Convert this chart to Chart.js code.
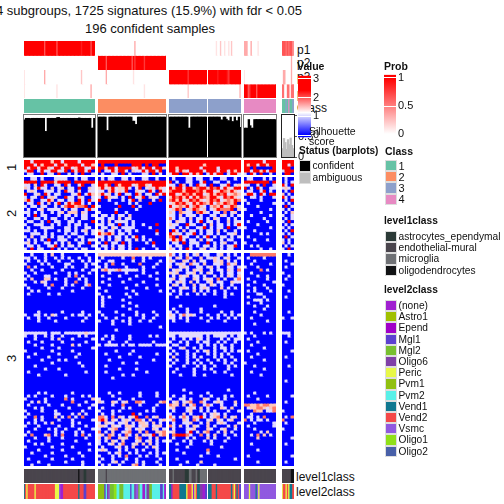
<!DOCTYPE html>
<html>
<head>
<meta charset="utf-8">
<script src="https://cdn.jsdelivr.net/npm/chart.js@4"></script>
<style>
	html, body { margin: 0; padding: 0; background: #fff; overflow: hidden; }
	#page { position: relative; width: 504px; height: 504px; overflow: hidden; font-family: "Liberation Sans", sans-serif; color: #111; }
	#page canvas, .txt, .swatch, .frame { position: absolute; display: block; }
	.txt { white-space: nowrap; line-height: 1; }
	.swatch { box-sizing: border-box; border: 1px solid #ddd; }
	.frame { box-sizing: border-box; border: 1px solid #777; }
</style>
</head>
<body>
<div id="page"></div>
<script>
// heatmap rows, space separated per sample group
// . blue, w lavender, p pink, s salmon, r red
const block1Rows = [
	"rrwrrrrrprrwrrrrwrrrr rrrrrrrrrrrrrrrrrrrr rrrrrrrrrrrrrrrrrrrrr rrrrrrwrrr rrrr",
	"rrrwrprrrwrrprrrrwrrp .r...r....rrr.r.rr.. rrrrrrrrrrprrrrrrrrrr rprrwrrprr rrwr",
	"rwrrwrrpwrrwrrwprrwwr rrprrwrrrrwprwrrwrrp rrprrrrrrwrrrrwrrrrrr rr.r.....r rrr.",
	"wrr.wrwwrrwwr.rwrrwr. r.wwrwrrw.pwwrwrrwr. rrwrpwrrrrwrrrwrrwrpr rrwrrprwrr wrrr",
	".ww..r.ww.r..w.w.r..w .w..ww.r.w...ww.r.w. wrr.rrwrpr.wrwrr.wrrw w.rw.r..w. .rr."
]
const block2Rows = [
	"..ww.w...wwww..w.ww.. .w.ww..ww.w..ww..w.. .w...ww.ww..w..ww..w. .ww...w.w. .w..",
	"rrrr.rrrrprrrr.rrrrrr rrrrrrrrrrrrrrrrrrrr r.w..ww..wr..ww..w... rrrrrrrr.r .w.w",
	"ww.p.rw..ww.rw..wr..w rrpr.rprrrwprrpwrrrr ww.rp.w.rww.r..wwr.wp ww..w.r..w rw.r",
	"pw.wrww.p.wp.ww.r..pw prwprwpprw.wr.wpwrpw rprrwrrpsrrprsrwrpwrr r.w.rw..ww wpw.",
	".wpw..www.w.rww.p..ww ww.prwpwr..pww.rw.rw srrrprrrsrprrwprsprpw .ww..wr.w. .w.r",
	"r..wp.rw.ww...wwr.wrp prwp.wr.ww.rp.ww.rwr rrwprsrprrwprprsrwpsp wrrw.rw.rr p.w.",
	"w.ww.r.wpw..rww.pw..w w.rpww.w.r.wwr.pww.. prsrprwrprsprrpwrsrpw ..ww.w...w rw.w",
	"prw..wwrp.ww.ww.rw.rw r..w...w.wr.p...w.r. srprwprsrpwprsrwpsprs w....w.... .w.r",
	".ww.rw.p.wr.wrprrw.w. .....w...w.w...r.... wprsrpwrprsprwsprspr. .w.......w w.w.",
	"w.ww.ww..w.wsrrpssr.r w.....r...r.w....... rwpsprwsrpw.psprwprsw ....w..... .r.w",
	".w..wp.wwww.w.ww..wrw .....w.....w........ wprs.wprswp.wprsssr.p w.......w. w.w.",
	"ww.w.w..w.wp.ppp.pw.. w....r..w........... pw.spww.srpw.ww.s.wp. .....w.... .w.p",
	".w.r.ww...w.ww.w.ww.w .ww.w.ww.p.......... ww.p.www.w..ww.pw.w.w ..w.....w. w..w",
	"w..ww.w.ww..w.w..ww.. ww.ww.p.ww.......... sw.ww.p.ww.w.pw..w.w. ......w... .w.w",
	".ww..w.r.ww..ww.w...r .w.p.wwww.w......... w.pww.w.wr.ww.w..p.ww .w.....w.. w.r.",
	"w..www..w.w..w.ww.w.. ww.ww.r.w.w..w...r.. pww..rww..w.p.ww.w.wr ....w..... .w.w",
	".w...wwww...ww.w..ww. .ww.pw.wwww....w.... ww.w.w..wwr.w.ww.r..w w.......w. w.w.",
	"ww.w..w...w.ww.w.wp.w pw.ww.w.ww.w.....r.. .rw.p.ww.w.ww.p.w..w. ...w...... .w.r",
	"..www.w.w...w.ww..w.w rpsrp.ww.w.......w.. rwpw.wwr.w.ww.w..wwp. .....w.w.. w.w.",
	"w.p..ww.w.ww.w..ww... ww.w.ww.w.wr.w...... sr.rww..w.wr.w.ww.w.w .w........ .r.w",
	".w.w.w.r..www..w.w.ww .w.w.pw.ww.p.w.w.... wrprw.ww.p.ww..w.ww.. ...w...w.. w.w.",
	"wp.w..ww.w.w.p..ww.r. w.r.ww.r.w....w.r... .ww.r.www..r.w.wp..w. w......... p.w.",
	".ww.w..wwr.w.ww.w...w .ww.w.ww.w......w... w.ww..w.w.ww.w.w.wwr. ..w.w..... .w.w",
	"w.r.ww..r.w.w..w.ww.. w.w.p.ww.w.r.w...w.. pw.w.rw..wp.ww.w.ww.. .....w..w. w.r."
]
const block3Rows = [
	"..w...w.p..w......w.. pppppppppppppppppppp sw.w.p.wp.ww..wp.w.w. ..ssssssss ..w.",
	"ww.w..w..w.w.w..w..w. .w.....w..s..w.w.... w.pw.sw..p.wwpw.wp..w .w....w... ....",
	".w..w.w...w...w..w.w. w..ww.....w..w....w. pw..pw.p.ww..pwp.w.w. ...w...... .w..",
	"w....w.w....ww....w.w ..w.s..w....s....w.. w.wpw.sww.p..wwp.swp. ..w.....w. ...w",
	".s.w....w...w.w...w.. w.w.....w....w..w... p..wpw..ww.wp.w..ww.w w...w..... .w..",
	"..w..w.....w.....w..w .pswwpswwwww.w...... .wpw.w.pwp..w.ww.pw.s .....s.w.. ....",
	"w..w.....w...w.w...w. ...w....w....w...w.. pwp..wwp.w.pw..w.ww.w ..w....... w...",
	".w....ww.....w.s.w... .w....w....w...w.... .w.pwp.ww.w..w.w.pw.p. ....w..w.. ..w.",
	"w.p...pp.w..w...w.w.. ...w.....w.......w.. wp.ww..pw.wpw.s.w..ws .w.....w.. .w..",
	"...w.pw.....w..s..w.. .w.....w.....w...... w.wpw.p.w..wp.ww..pww ...w.....w ....",
	"w.....w.s...w.w...ws. ...w.......w.....w.. .pw.w..p.ww.pw.w..w.. .w....w... w...",
	".w.....w...w.....w... w.......w.....w..... w..wpw.w.wpw...p.w.w. ...w...w.. ....",
	"..w.w.........w...... ..w.......w.......w. .w.w...p.w.w.w..w.... .w.w....w. ..w.",
	".w.....w..w.......... w.......w..w........ w..w.w..w.w..w..w.w.. ....ww.... ....",
	"..................... .w.w.....w.......... ..w.............w.... .w....w... .w..",
	"..................... .w.....w............ ..................... ...www.w.. ....",
	"..................... .w.......w.......... ..................... .w...w.... ....",
	"..................... .w.....w...w........ ...w.........w....... ...w...w.. ....",
	"..................... .........w.......... .w...w...w........... ......w... ....",
	"....w......w.....w... w....w.....w....w... w.w..w...w.....w..w.. ...w...... ..w.",
	"w..ww.w.pw....w.ww.w. .w.....w...w.w...w.. pw.wswpw...w..w.w.w.w .....w.... ....",
	".w..w..w....w.....w.. ..w..w...w...w..w... ww.w.w...w..w.w..w.w. ..w....... w..w",
	"....w....w.......w... w...w..w.w..w..w.... .w...w.....w....w.... .......w.. ....",
	"..................... ....w....w.......... ..................... ...w...... ....",
	"..................... ..................w. ..................... .......... ....",
	"..................... .....w.............. ..................... .......... ....",
	"wwwwwww.www.wwwwwwpww .................... wwwwwwwwwwwwwwwwwwwww w.w...w.w. www.",
	"w..w..w.w..w....w.w.. ..w.w....w.....w.w.. ww.wwwwwww.w.wwww.w.w ...w...... ..w.",
	"...w....w.p...w.....w .w..w....w.......... .w..w.w.pw.w...w.w.ww .w........ ....",
	".w...w.....w......w.. ...w....w.......w... w..w.w..w.ww..w.w..w. ....w..... .w..",
	"...w....w.....p.w.... w.wwww.w.ww.wwww.www .ww..w...w.w.w.w..w.. ..w....... ....",
	".....w....w.........w .................... w..wp..w.w...w.ww.w.. ......w... ....",
	"w.......w.....w...... .....w....w......... .w...w..w.wp.w..w.w.w .w........ ...w",
	"...w......w.....w.... ..w......w.......w.. w.w..w.w...w.w.w.w... ....w..... ....",
	".w.....w.......w..... ......w.....w....... .p...w.w.w...w.w..w.. ..w....... .w..",
	".....w....w.w........ ...w............w... w.w..w..w..w..w.w..w. ......w... ....",
	"........w.......w.... .......w...w........ .w...w.w.w..w...w.w.. w......... ....",
	"...w.............w... ..w................. w...w...w.w..w...w.w. ...w...... ..w.",
	"......w...w.......... ......w....w........ ..w....w..w.w....w... ......w... ....",
	".w................w.. ..w...........w..... .w.....w.....w..w.... ..w....... ....",
	"....w.......w........ .......w..w......... ...w...w..w.......w.. .....w.... ....",
	"..................... ....w............... ..................... .......... ....",
	"..................... .................... ..................... .......... .w..",
	"..................... .................... ..................... .......... ....",
	"..................... .................... ..................... .......... ....",
	"..................... .................... ....w............w... .......... ....",
	"....w.w.......w...... ...w..w.....w....w.. ......w....w......... ...w...... ....",
	".w.w....w...w....w.w. ....w.......w....w.. .w..w....w..w...w.w.. .w.....w.. ...w",
	"w.....w.....s.w.....p w.....w...w......... w..ww.w...pw..w.w.... ....w..... ....",
	"..w.p.w.......s...w.. pw..pw.wp..ssw....ps .wp.wps..sw..wpw...p. .......... .w..",
	".w.....w...w....w...w ....w..s....w....w.. spp.p.ws..wsw..w...w. ssppspsspp ....",
	"...w.w.......w.....w. .w.....w.w......w... wp...wpw.p.w...pw.p.. .wppsspwps ....",
	"w....w...w.......w... w...w.w.......w.w... .w...wp..w.w.w...w..w ...spp.wws w...",
	".w.......ww...w.p.w.. .w..w.....r.w....... w...p.w...w.wpw.w.... ..w....... ....",
	"w..s.w...p.w.s.w.s... ssw.s.pw.wpr..s.wp.. sw.wsw.pprw.wps.p.wp. .ww.w.s... .w.s",
	"...w.w....w...w.....w srp.pw.wpw.ssw.p..wp ws..pw.sw..wp.pw.wp.. s.w.ww.w.. s...",
	".w.w..w.p.....w.w.... w.pww.wwp.w.ppw.p.w. .w..wwp..w.p..wpw...w ...w.....w .w..",
	"w...w.....w...w...w.. ppw.pww.ppw.wpp.wpp. sw.p.w.pw..p.w...w.p. .w.......w ....",
	"...w...w.w..w...w...w w..wps..wp.wpw..pw.w .w...wwp...pw..wp..w. ...w...... w...",
	".w.......w.w...w.w... s.w.p..wps..p.s..pps wp...wr.w.ps..w.p.w.. .....w.p.. ....",
	"w.s...ps.w.s...w.s.w. wp.sp.w.sw.p.wpwr.ps .srrrsw..s.w.p..w..w. ..w.s.p.w. ....",
	"...w...w...w......w.. p.ws..pwp..ps..w.p.. .w...w.w...p.w...w... ....p..... ...w",
	".w.....w.......w..... w.w.pw.p...wp.wp.w.w w...w.w...w.w...w.... .......... ....",
	"...w.w.....w.......w. w..wp.ws..wp.p.p.w.. ..w...w.....w........ ..w....... .w..",
	"w.......w.....w...... .w...wp.w.p...w.pw.. .....w.........w..... .......... ....",
	"....w......w.......w. wpw...w.w..w.w...w.. ..w........s......... ....w..... ....",
	"..w.....w.......w.... ...w.wp..w.w...w.w.w ....w......w......... .......... ....",
	"......w.....w....w... w...w.w.s...w.w..w.. .........w....w...... .w........ ...w",
	".w......w.....w...... .w..w...w..w......w. ..w................w. .......... ....",
	"....w.......w....w... w...wp.w...w.w...w.. .....w...p........... ....w..... .w..",
	"..w....w.........w... .w.w..w...ps.w....w. ...w....w....w....... .......... ...."
]

// top annotation tracks, one digit per sample, 9 = probability 1
const p1Track = "9999999999999996999999996999999999999999998999999699 00000000000000000000000000030000000000000000000000 0000000000000000000000000000 000000100200100102000000 33300300001000000000000 666565664"
const p2Track = "0000000000000000000000000000000000000000000000000000 99999969999999999999999996979999997999999999999999 0000000000000000000000000000 000000000000000000000000 00000000000000000000000 000000030"
const p3Track = "1000000000000003000000000000000000000000002000000000 00000030000000000000000000100000000000000000000000 9999999999999979999999999999 999999989999998799999999 10000000000000000000000 033000030"
const p4Track = "1000000000000000000000001000000000000000000000000300 00000000000000000000000000000000001000000000000000 0000000000000020000000000000 000000000000000000000002 99967999969999999999999 550055055"
const classTrack = "1 2 3 3 4 111314113"
const level1Track = "eeeeeeeeeeeeeeeeeeeeeeeeeeeeeeeeeeeeeeeeoeeeaaeeeeee mmmmmmemmmmmmmmmmmmmmmmmmmmmmmmmmmmmmmmmmmmmmmmmmm eeemeeeeeeeeaaammeeemeammmmm eeeeeeeeeeeeeeeeeeeeeeee eeeeeeeeeeeeeeeeeeeeeee eeeeeeeoo"
const level2Track = "jkgkkkkkgkkkkkkkkkkkkkkgggl" + "aakkkkkkkkkkkjkkkddkkkkkk hhhhhdifleeemmiieeeiiiiidiiflleiiaaiffeeiiiiiiddia jjakkkkkjjjjjgkkkgagkjjffaad jjjkkkjkkkkkkkkkkjkgkjkd llllglllljlgllllllllllll gkkgkgjjk"

// silhouette score per sample
const silGroup1 = [.90,.94,.94,.94,.93,.94,.94,.94,.94,.94,.94,.94,.94,.94,.94,.62,.62,.94,.94,.94,.94,.94,.94,.94,.96,.96,.94,.94,.94,.94,.94,.94,.94,.94,.94,.94,.94,.94,.94,.94,.95,.94,.94,.94,.94,.94,.94,.94,.94,.70,.70,.94]
const silGroup2 = [.97,.97,.97,.97,.97,.97,.64,.64,.97,.97,.97,.97,.97,.97,.97,.97,.97,.97,.97,.97,.97,.97,.97,.97,.97,.87,.87,.79,.79,.97,.97,.97,.97,.97,.97,.97,.97,.97,.97,.97,.97,.97,.97,.97,.97,.97,.97,.97,.97,.97]
const silGroup3a = [.97,.97,.97,.97,.97,.97,.97,.97,.97,.97,.97,.97,.97,.97,.70,.70,.97,.97,.97,.97,.97,.97,.97,.97,.97,.97,.97,.97]
const silGroup3b = [.97,.97,.97,.97,.97,.97,.97,.97,.97,.90,.90,.97,.97,.92,.88,.88,.97,.86,.86,.97,.88,.88,.97,.72]
const silGroup4 = [.70,.70,.70,.91,.76,.70,.70,.91,.91,.91,.91,.91,.91,.91,.91,.91,.91,.91,.91,.91,.91,.91,.91]
const silGroup5 = [.20,.45,.35,.18,.42,.30,.46,.28,.20]

const valueTicks = [0, 1, 2, 3]
const probTicks = [0, 0.5, 1]
const silTicks = [0, 0.5, 1]

const classNames = ["1", "2", "3", "4"]
const classColors = ["#66c2a5", "#fc8d62", "#8da0cb", "#e78ac3"]
const level1Names = ["astrocytes_ependymal", "endothelial-mural", "microglia", "oligodendrocytes"]
const level1Colors = ["#2b3a37", "#4a454d", "#6e7074", "#111214"]
const level2Names = ["(none)", "Astro1", "Epend", "Mgl1", "Mgl2", "Oligo6", "Peric", "Pvm1", "Pvm2", "Vend1", "Vend2", "Vsmc", "Oligo1", "Oligo2"]
const level2Colors = ["#a020d0", "#a0c000", "#a000c8", "#5c40d0", "#78c030", "#8040a8", "#e8f848", "#90c010", "#58f0e8", "#107890", "#f44848", "#9058e0", "#90e018", "#4860a8"]
const statusNames = ["confident", "ambiguous"]
const statusColors = ["#000000", "#bebebe"]

// panel columns in the page
const heatPanels = [[24, 71], [98, 68], [169, 72], [244, 32], [282, 12]]
const trackPanels = [[24, 71], [98, 68], [169, 38], [208, 33], [244, 32], [282, 12]]

const page = document.getElementById("page")
const heatColors = { ".": "#0000ff", w: "#e2daff", p: "#ffc8bc", s: "#ff7a68", r: "#ff0000" }
const level1Map = { a: level1Colors[0], e: level1Colors[1], m: level1Colors[2], o: level1Colors[3] }

function addCanvas(x, y, w, h) {
	const c = document.createElement("canvas")
	c.width = w
	c.height = h
	c.style.left = x + "px"
	c.style.top = y + "px"
	c.style.width = w + "px"
	c.style.height = h + "px"
	page.appendChild(c)
	return c.getContext("2d")
}

function label(text, x, y, size, extra) {
	const d = document.createElement("div")
	d.className = "txt"
	d.textContent = text
	d.style.left = x + "px"
	d.style.top = y - size / 2 + "px"
	d.style.fontSize = size + "px"
	if (extra) Object.assign(d.style, extra)
	page.appendChild(d)
}

function baseOptions() {
	return {
		responsive: false,
		animation: false,
		events: [],
		devicePixelRatio: 1,
		layout: { padding: 0 },
		plugins: { legend: { display: false }, tooltip: { enabled: false } }
	}
}

// rows of chars -> stacked bars, one dataset per row
function heat(x, y, w, h, rows, colorOf) {
	const labels = rows[0].split("").map((_, i) => i)
	const datasets = rows.map((row) => ({
		data: labels.map(() => 1),
		backgroundColor: labels.map((i) => colorOf(row[i] || ".")),
		borderWidth: 0,
		inflateAmount: 0.5,
		barPercentage: 1,
		categoryPercentage: 1
	}))
	const opts = baseOptions()
	opts.scales = {
		x: { display: false, stacked: true },
		y: { display: false, stacked: true, reverse: true, min: 0, max: rows.length }
	}
	new Chart(addCanvas(x, y, w, h), { type: "bar", data: { labels: labels, datasets: datasets }, options: opts })
}

function probColor(ch) {
	const v = Math.round(255 * (1 - Number(ch) / 9))
	return "rgb(255," + v + "," + v + ")"
}

function trackRows(track, panel) {
	return track.split(" ")[panel]
}

function silhouette(x, y, w, h, values, color, withAxis) {
	const labels = values.map((_, i) => i)
	const opts = baseOptions()
	opts.scales = {
		x: { display: false },
		y: { display: false, min: 0, max: h / 41 }
	}
	if (withAxis) {
		opts.scales.y = {
			display: true,
			position: "right",
			min: -7 / 41,
			max: (h - 7) / 41,
			afterBuildTicks: (s) => { s.ticks = silTicks.map((v) => ({ value: v })) },
			afterFit: (s) => { s.width = 26; s.paddingTop = 0; s.paddingBottom = 0 },
			grid: { drawOnChartArea: false, tickLength: 3, color: "#555" },
			border: { display: false },
			ticks: { color: "#111", padding: 1, font: { family: "Liberation Sans", size: 11 }, callback: (v) => String(v) }
		}
	}
	new Chart(addCanvas(x, y, w, h), {
		type: "bar",
		data: { labels: labels, datasets: [{ data: values, backgroundColor: color, borderWidth: 0, inflateAmount: 0.5, barPercentage: 1, categoryPercentage: 1 }] },
		options: opts
	})
}

// single gradient bar with its own axis
function colorBar(x, y, w, h, barW, range, bar, ticks, stops) {
	const opts = baseOptions()
	opts.scales = {
		x: { display: false },
		y: {
			position: "right",
			min: range[0],
			max: range[1],
			afterBuildTicks: (s) => { s.ticks = ticks.map((v) => ({ value: v })) },
			afterFit: (s) => { s.width = w - barW; s.paddingTop = 0; s.paddingBottom = 0 },
			grid: { color: "#fff", drawTicks: false, z: 1, borderDash: [3, barW - 6], lineWidth: 1 },
			border: { display: false },
			ticks: { color: "#111", padding: 2, font: { family: "Liberation Sans", size: 11 }, callback: (v) => String(v) }
		}
	}
	new Chart(addCanvas(x, y, w, h), {
		type: "bar",
		data: {
			labels: [""],
			datasets: [{
				data: [bar],
				borderWidth: 0,
				barPercentage: 1,
				categoryPercentage: 1,
				backgroundColor: (ctx) => {
					const chart = ctx.chart
					if (!chart.chartArea) return "#fff"
					const s = chart.scales.y
					const g = chart.ctx.createLinearGradient(0, s.getPixelForValue(bar[0]), 0, s.getPixelForValue(bar[1]))
					stops.forEach((st) => g.addColorStop((st[0] - bar[0]) / (bar[1] - bar[0]), st[1]))
					return g
				}
			}]
		},
		options: opts
	})
}

function swatches(names, colors, x, y, pitch, size) {
	names.forEach((n, i) => {
		const d = document.createElement("div")
		d.className = "swatch"
		d.style.left = x + "px"
		d.style.top = y + pitch * i + "px"
		d.style.width = "12px"
		d.style.height = pitch + "px"
		d.style.background = colors[i]
		page.appendChild(d)
		label(n, x + 13.5, y + pitch * i + pitch / 2 + 0.5, size)
	})
}

// titles
label("4 subgroups, 1725 signatures (15.9%) with fdr < 0.05", -4, 10, 13)
label("196 confident samples", 85, 28.5, 13)

// top annotations
trackPanels.forEach((p, i) => {
	const rows = [p1Track, p2Track, p3Track, p4Track].map((t) => trackRows(t, i))
	heat(p[0], 41, p[1], 57, rows, probColor)
	heat(p[0], 99, p[1], 14, [trackRows(classTrack, i)], (c) => classColors[Number(c) - 1])
	heat(p[0], 469, p[1], 14, [trackRows(level1Track, i)], (c) => level1Map[c])
	heat(p[0], 484, p[1], 15, [trackRows(level2Track, i)], (c) => level2Colors[c.charCodeAt(0) - 97])
})
label("p1", 297, 50, 12)
label("p2", 297, 63, 12)
label("p3", 297, 77, 12)
label("p4", 297, 94, 12)
label("Class", 297, 107.5, 12)

// heatmap
function drawBlock(rows, y, h) {
	heatPanels.forEach((p, i) => {
		heat(p[0], y, p[1], h, rows.map((r) => r.split(" ")[i]), (c) => heatColors[c] || heatColors["."])
	})
}
drawBlock(block1Rows, 160, 15)
drawBlock(block2Rows, 177, 73)
drawBlock(block3Rows, 253, 213)

label("1", 7.5, 167, 13, { transform: "rotate(-90deg)" })
label("2", 7.5, 213, 13, { transform: "rotate(-90deg)" })
label("3", 7.5, 358, 13, { transform: "rotate(-90deg)" })
label("level1class", 296, 477, 12)
label("level2class", 296, 492, 12)

// silhouette panel
silhouette(24, 114, 71, 43, silGroup1, "#000")
silhouette(98, 114, 68, 43, silGroup2, "#000")
silhouette(169, 114, 38, 43, silGroup3a, "#000")
silhouette(208, 114, 33, 43, silGroup3b, "#000")
silhouette(244, 114, 32, 43, silGroup4, "#000")
silhouette(282, 108, 38, 56, silGroup5, "#bebebe", true)
const frames = [[23, 73, "#777"], [97, 70, "#777"], [168, 74, "#777"], [243, 34, "#777"], [281, 14, "#222"]]
frames.forEach((f) => {
	const d = document.createElement("div")
	d.className = "frame"
	d.style.left = f[0] + "px"
	d.style.top = "114px"
	d.style.width = f[1] + "px"
	d.style.height = "44px"
	d.style.borderColor = f[2]
	page.appendChild(d)
})

// legends
label("Value", 297, 66, 10.5, { fontWeight: "bold" })
colorBar(298, 70, 30, 73, 13, [-8 / 18.7, 65 / 18.7], [-0.1, 3.15], valueTicks, [[-0.1, "#0000ff"], [0, "#0000ff"], [1.2, "#ffffff"], [2.4, "#ff0000"], [3.15, "#ff0000"]])
label("Prob", 384, 66, 10.5, { fontWeight: "bold" })
colorBar(384, 70, 34, 70, 12, [-6 / 56, 64 / 56], [0, 1.05], probTicks, [[0, "#ffffff"], [1, "#ff0000"], [1.05, "#ff0000"]])

label("Silhouette", 309, 131, 10.5)
label("score", 309, 141, 10.5)
label("Status (barplots)", 299, 151, 10, { fontWeight: "bold" })
swatches(statusNames, statusColors, 299, 160, 11.8, 10.2)

label("Class", 385, 151, 10.5, { fontWeight: "bold" })
swatches(classNames, classColors, 385, 160, 11.2, 11)

label("level1class", 384, 221, 10.2, { fontWeight: "bold" })
swatches(level1Names, level1Colors, 385, 230.5, 11.4, 10.2)

label("level2class", 384, 290, 10.2, { fontWeight: "bold" })
swatches(level2Names, level2Colors, 385, 300, 11.2, 10.2)
</script>
</body>
</html>
